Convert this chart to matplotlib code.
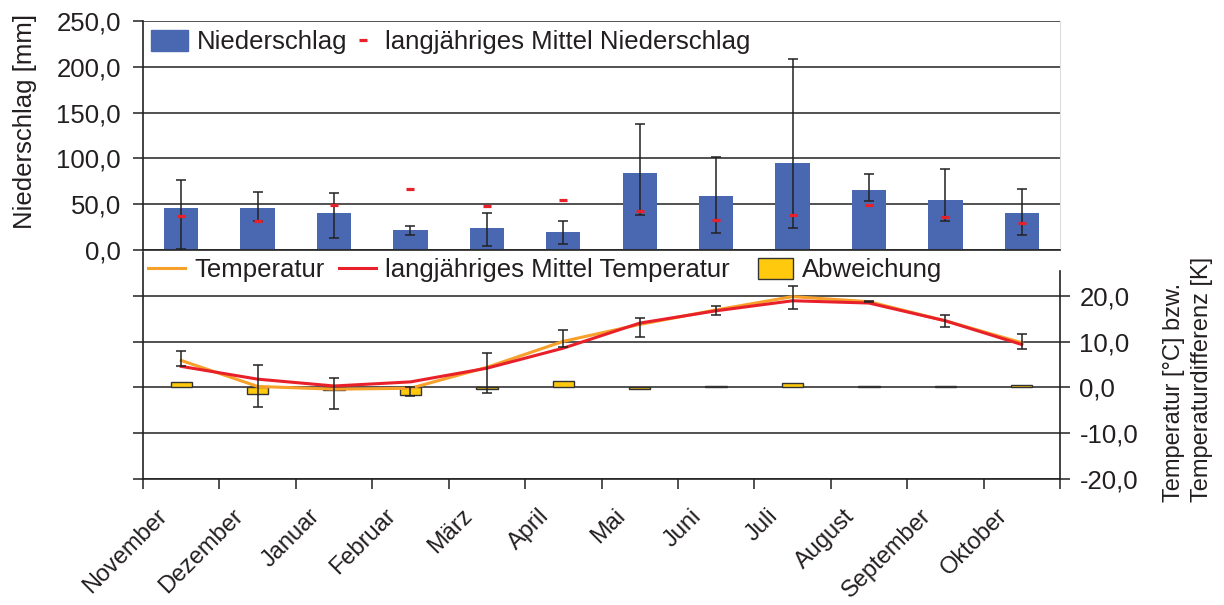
import matplotlib
matplotlib.use('Agg')
import matplotlib.pyplot as plt
import numpy as np
from matplotlib.lines import Line2D
from matplotlib.patches import Patch
from matplotlib.ticker import FuncFormatter
from matplotlib.transforms import ScaledTranslation

months = ['November', 'Dezember', 'Januar', 'Februar', 'März', 'April',
          'Mai', 'Juni', 'Juli', 'August', 'September', 'Oktober']
niederschlag = [46, 46, 40, 22, 24, 19.5, 84, 59, 95.5, 65, 55, 40]
niederschlag_min = [1, 32, 13, 16, 4, 7, 38, 19, 24.5, 54, 32, 16]
niederschlag_max = [76.5, 63, 62, 26, 40, 32, 138, 101.5, 208.5, 83.5, 88, 67]
mittel_niederschlag = [37.5, 32, 49, 67, 48.5, 55, 43, 33, 38.6, 49, 35.7, 30]

temperatur = [5.9, 0.2, -0.4, -0.2, 4.4, 10.1, 13.8, 17.0, 19.9, 18.8, 14.6, 9.8]
mittel_temperatur = [4.6, 1.8, 0.3, 1.2, 4.2, 8.6, 14.1, 16.8, 19.0, 18.5, 14.6, 9.4]
temp_min = [4.6, -4.4, -4.7, -1.8, -1.2, 8.8, 11.1, 15.8, 17.2, 18.7, 13.3, 8.4]
temp_max = [7.9, 4.9, 2.0, 0.0, 7.5, 12.5, 15.2, 17.9, 22.2, 19.0, 15.8, 11.6]
abweichung = [1.1, -1.5, -0.6, -1.6, -0.3, 1.4, -0.3, 0.3, 0.9, 0.3, 0.3, 0.5]

plt.rcParams['font.family'] = ['Liberation Sans', 'DejaVu Sans']
FS = 18.5
FSX = 17
TXT = '#231F20'
BLUE = '#4A68B1'
RED = '#E8202A'
ORANGE = '#F7A02A'
YELLOW = '#FFC90E'

W, H = 1224, 605
fig = plt.figure(figsize=(W / 100, H / 100), dpi=100)

def fx(px):
    return px / W

def fy(py):
    return 1 - py / H

left, right = 143, 1060
ax1 = fig.add_axes([fx(left), fy(250), fx(right - left), fy(21) - fy(250)])
ax2 = fig.add_axes([fx(left), fy(478.5), fx(right - left), fy(252) - fy(478.5)])

x = np.arange(len(months))
comma = FuncFormatter(lambda v, p: f'{v:.1f}'.replace('.', ','))

leg_kw = dict(loc='center left', bbox_transform=fig.transFigure, frameon=False,
              fontsize=FS, handleheight=0.9, handletextpad=0.35,
              borderaxespad=0, borderpad=0)

# ---------- upper: precipitation ----------
nd = np.array(niederschlag)
lo = np.array(niederschlag_min)
hi = np.array(niederschlag_max)
ax1.bar(x, nd, width=0.45, color=BLUE, zorder=2)
ax1.errorbar(x, nd, yerr=[nd - lo, hi - nd], fmt='none', ecolor='#222222',
             elinewidth=1.1, capsize=3.5, capthick=1.1, zorder=3)
ax1.plot(x, mittel_niederschlag, linestyle='none', marker='_', markersize=6,
         markeredgewidth=2.3, color=RED, zorder=4)
ax1.set_xlim(-0.5, 11.5)
ax1.set_ylim(0, 250)
ax1.set_yticks(np.arange(0, 251, 50))
ax1.yaxis.set_major_formatter(comma)
ax1.yaxis.grid(True, color='#333333', linewidth=1.2, zorder=0)
ax1.set_axisbelow(True)
ax1.set_xticks([])
ax1.spines['top'].set_visible(False)
ax1.spines['right'].set_color('#dddddd')
for s in ['left', 'bottom']:
    ax1.spines[s].set_color('#222222')
    ax1.spines[s].set_linewidth(1.2)
ax1.tick_params(axis='y', labelsize=FS, length=7, width=1.1, pad=9,
                colors=TXT, direction='out')

leg1a = ax1.legend(handles=[Patch(facecolor=BLUE, edgecolor=BLUE)],
                   labels=['Niederschlag'], bbox_to_anchor=(fx(151), fy(42)),
                   handlelength=1.45, **leg_kw)
ax1.add_artist(leg1a)
leg1b = ax1.legend(handles=[Line2D([], [], linestyle='none', marker='_', markersize=6,
                                   markeredgewidth=2.3, color=RED)],
                   labels=['langjähriges Mittel Niederschlag'],
                   bbox_to_anchor=(fx(350), fy(42)), handlelength=1.0, **leg_kw)
for lg in (leg1a, leg1b):
    for t in lg.get_texts():
        t.set_color(TXT)

# ---------- lower: temperature ----------
tmin = np.array(temp_min)
tmax = np.array(temp_max)
ax2.bar(x, abweichung, width=0.28, color=YELLOW, edgecolor='#333333',
        linewidth=1.0, zorder=2)
ax2.plot(x, temperatur, color=ORANGE, linewidth=2.2, zorder=3)
ax2.plot(x, mittel_temperatur, color=RED, linewidth=2.2, zorder=4)
ax2.errorbar(x, (tmin + tmax) / 2, yerr=(tmax - tmin) / 2, fmt='none',
             ecolor='#222222', elinewidth=1.1, capsize=3.5, capthick=1.1, zorder=5)
ax2.set_xlim(-0.5, 11.5)
ax2.set_ylim(-20, 29.7)
ax2.set_yticks(np.arange(-20, 21, 10))
ax2.yaxis.set_major_formatter(comma)
ax2.yaxis.grid(True, color='#333333', linewidth=1.2, zorder=0)
ax2.set_axisbelow(True)
ax2.spines['top'].set_visible(False)
ax2.spines['right'].set_bounds(-20, 25.5)
for s in ['left', 'right', 'bottom']:
    ax2.spines[s].set_color('#222222')
    ax2.spines[s].set_linewidth(1.2)
ax2.tick_params(axis='y', which='major', left=True, right=True, labelleft=False,
                labelright=True, labelsize=FS, length=7, width=1.1, pad=7,
                colors=TXT, direction='out')
ax2.set_xticks(np.arange(-0.5, 12, 1))
ax2.set_xticklabels([])
ax2.tick_params(axis='x', which='major', length=7, width=1.1, direction='out',
                colors='#222222')
ax2.set_xticks(x, minor=True)
ax2.set_xticklabels(months, minor=True, rotation=45, ha='right', fontsize=FSX,
                    color=TXT)
ax2.tick_params(axis='x', which='minor', length=0, pad=19)
shift = ScaledTranslation(-10 / 100, 0, fig.dpi_scale_trans)
for lab in ax2.get_xticklabels(minor=True):
    lab.set_transform(lab.get_transform() + shift)

leg2a = ax2.legend(handles=[Line2D([], [], color=ORANGE, linewidth=2.2),
                            Line2D([], [], color=RED, linewidth=2.2)],
                   labels=['Temperatur', 'langjähriges Mittel Temperatur'],
                   ncol=2, bbox_to_anchor=(fx(148), fy(270)), handlelength=1.45,
                   columnspacing=0.55, **leg_kw)
ax2.add_artist(leg2a)
leg2b = ax2.legend(handles=[Patch(facecolor=YELLOW, edgecolor='#333333', linewidth=1.0)],
                   labels=['Abweichung'], bbox_to_anchor=(fx(758), fy(270)),
                   handlelength=1.35, **leg_kw)
for lg in (leg2a, leg2b):
    for t in lg.get_texts():
        t.set_color(TXT)

fig.text(fx(25), fy(121), 'Niederschlag [mm]', rotation=90, ha='center',
         va='center', fontsize=FS, color=TXT)
fig.text(fx(1188), fy(502), 'Temperatur [°C] bzw.\nTemperaturdifferenz [K]',
         rotation=90, ha='center', va='bottom', multialignment='left',
         fontsize=FSX, color=TXT, linespacing=1.3)

fig.savefig('out.png', dpi=100)
